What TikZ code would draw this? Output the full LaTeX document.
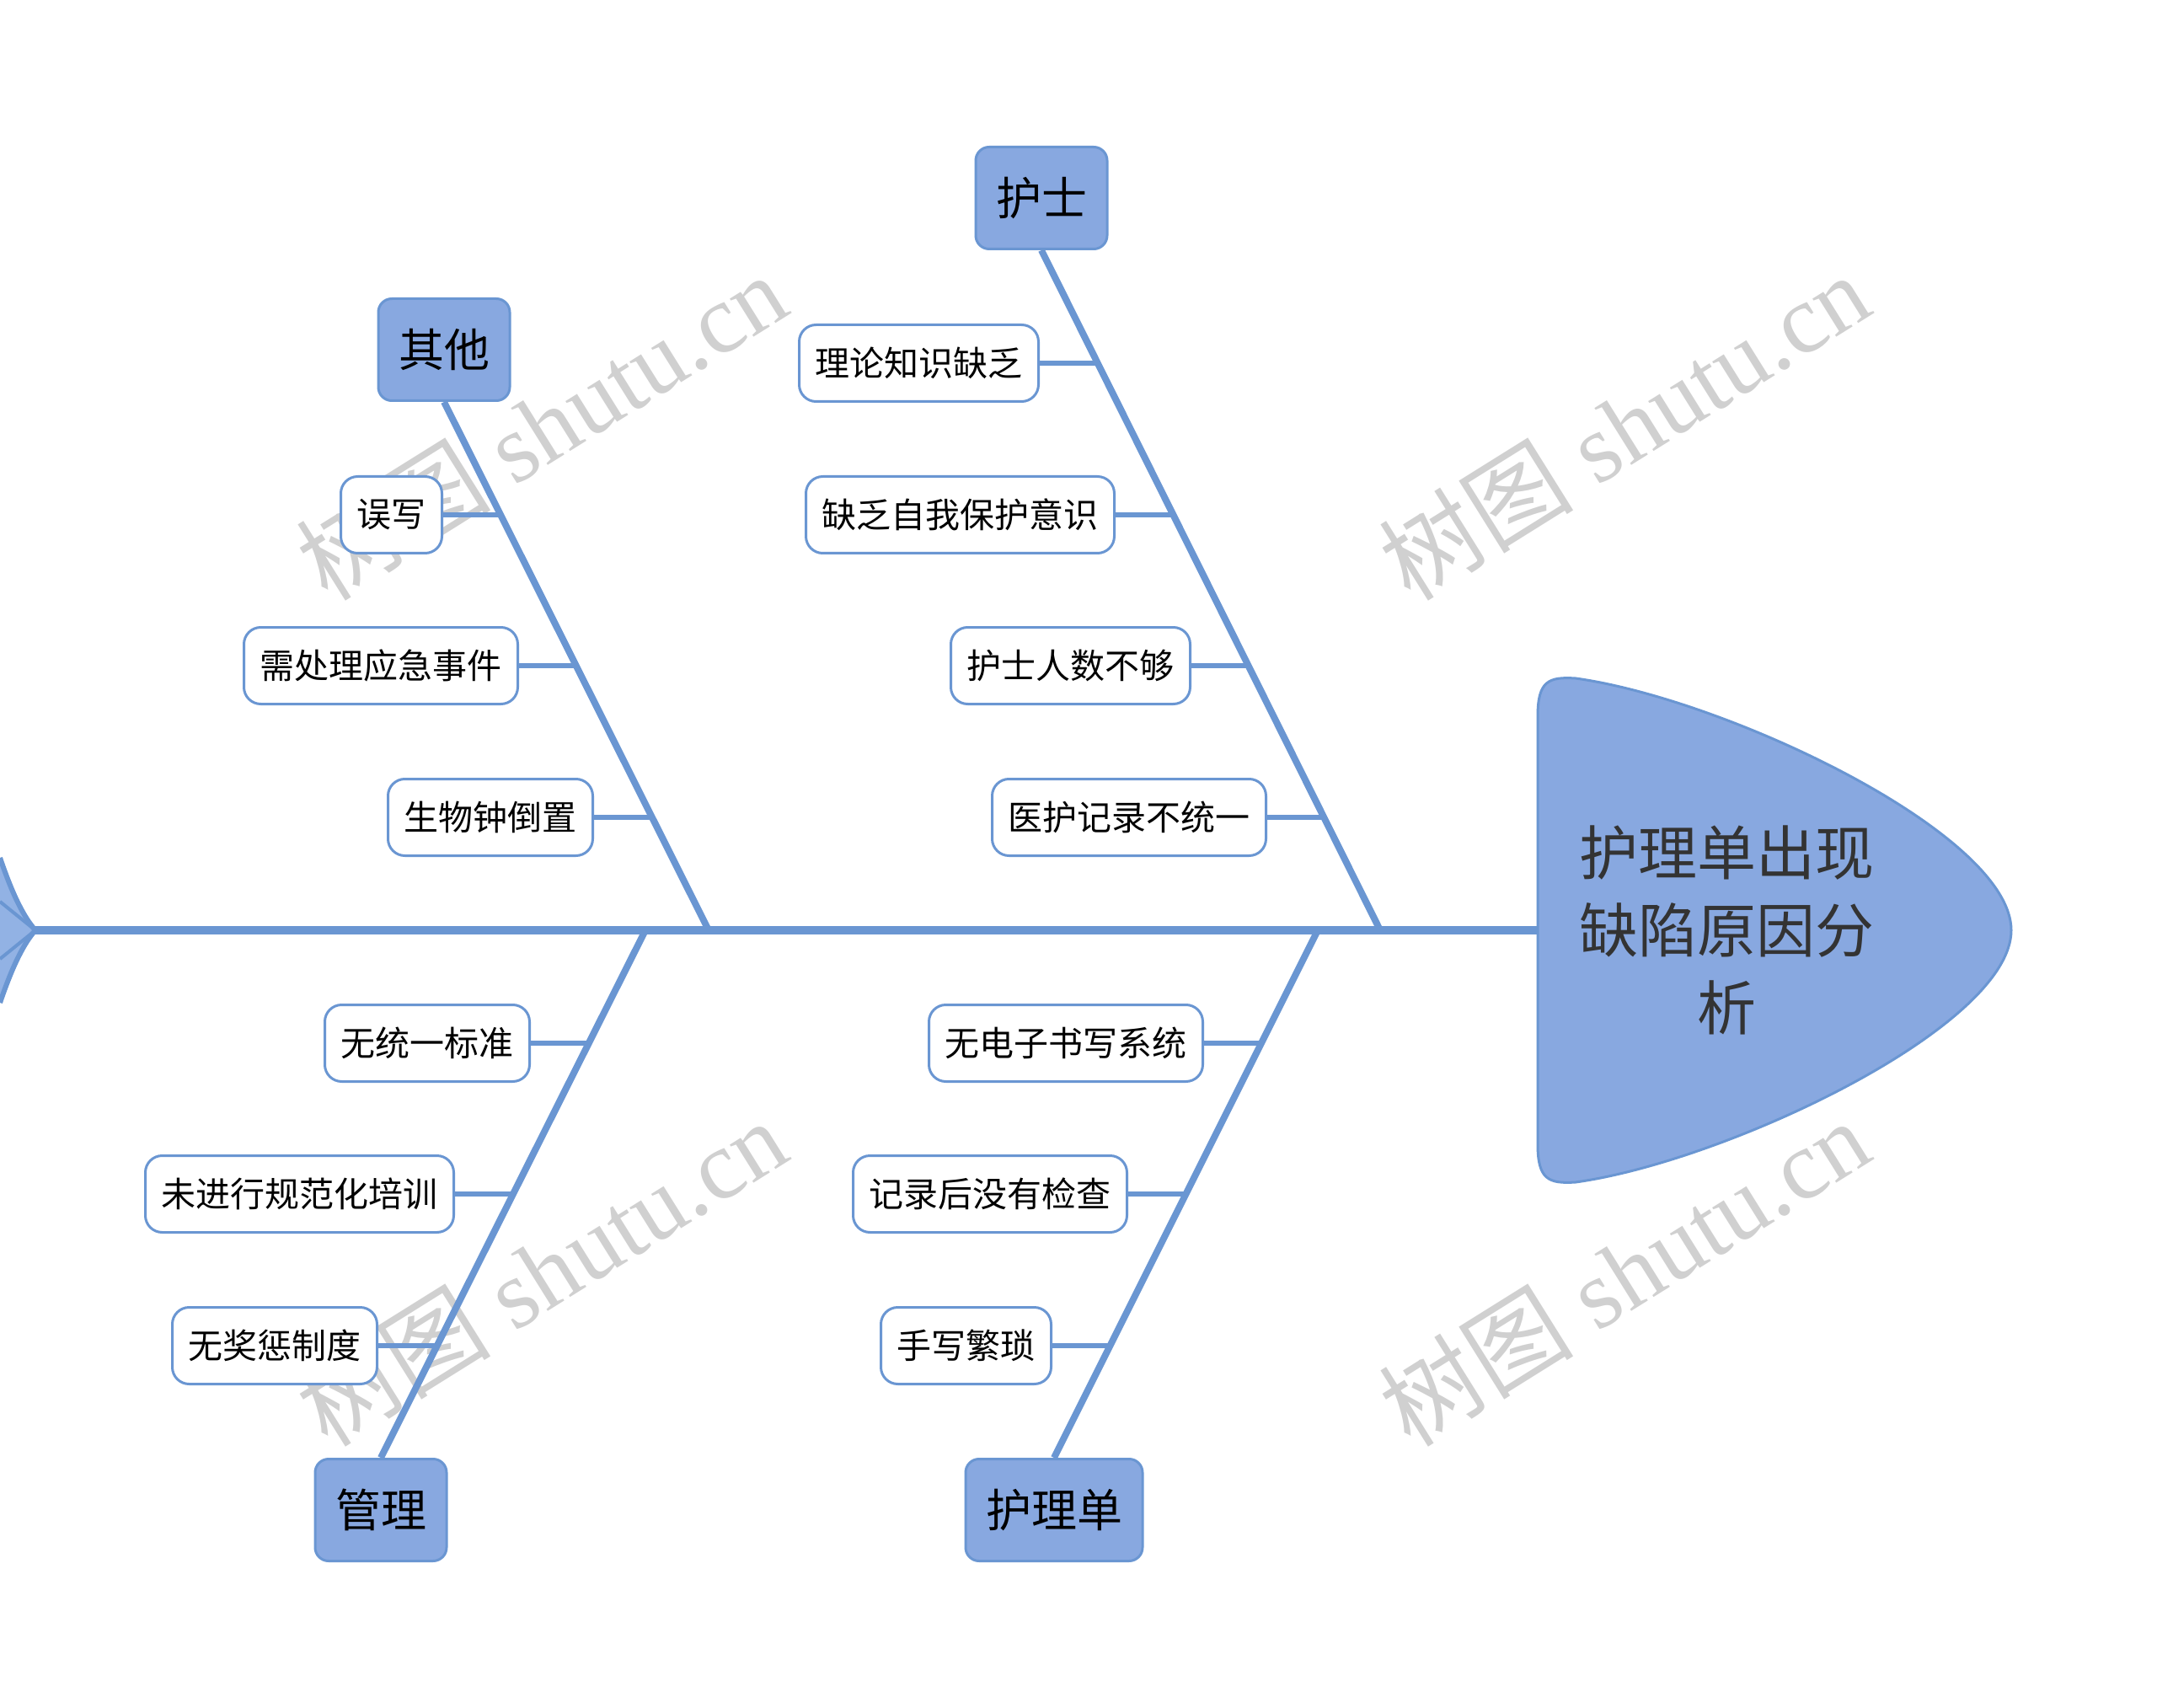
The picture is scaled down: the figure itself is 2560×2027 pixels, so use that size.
\documentclass[tikz,border=0pt]{standalone}
\usepackage{fontspec}
\setmainfont{Liberation Serif}
\newfontfamily\cjk{Noto Sans CJK SC}
\usetikzlibrary{calc}
\definecolor{bfill}{RGB}{136,168,224}
\definecolor{bline}{RGB}{106,150,210}
\definecolor{tfill}{RGB}{146,178,228}
\definecolor{wmgray}{RGB}{208,208,208}
\begin{document}
\begin{tikzpicture}[x=0.5pt,y=-0.5pt,
  cat/.style={draw=bline, fill=bfill, line width=1.5pt, rounded corners=8pt,
    minimum height=60.5pt, inner xsep=12pt, inner ysep=0pt, text=black,
    font=\cjk\fontsize{27}{27}\selectfont},
  item/.style={draw=bline, fill=white, line width=1.5pt, rounded corners=10pt,
    minimum height=45.5pt, inner xsep=9.5pt, inner ysep=0pt, anchor=east, text=black,
    font=\cjk\fontsize{20.5}{20.5}\selectfont},
  spine/.style={draw=bline, line width=5pt},
  bone/.style={draw=bline, line width=4pt},
  twig/.style={draw=bline, line width=3pt},
  wm/.style={text=wmgray, rotate=32, font=\fontsize{58}{58}\selectfont}]
\useasboundingbox (0,0) rectangle (2560,2027);

% watermarks (behind)
\node[wm] (w1) at (642,506) {{\cjk 树图} shutu.cn};
\node[wm] (w2) at (1927,506) {{\cjk 树图} shutu.cn};
\node[wm] (w3) at (642,1510) {{\cjk 树图} shutu.cn};
\node[wm] (w4) at (1927,1510) {{\cjk 树图} shutu.cn};

% tail
\fill[tfill] (0,1018) .. controls (15,1062) and (28,1088) .. (42,1104)
  .. controls (28,1120) and (15,1146) .. (0,1190) -- cycle;
\draw[bline, line width=3pt] (0,1018) .. controls (15,1062) and (28,1088) .. (42,1104)
  .. controls (28,1120) and (15,1146) .. (0,1190);
\draw[bline, line width=2pt] (0,1070) -- (42,1104) -- (0,1138);
\coordinate (tail) at (40,1104);

% head
\path[draw=bline, fill=bfill, line width=1.5pt]
  (1825,1104) -- (1825,850) .. controls (1825,808) and (1838,803) .. (1870,805)
  .. controls (2050,830) and (2387,990) .. (2387,1104)
  .. controls (2387,1218) and (2050,1378) .. (1870,1403)
  .. controls (1838,1405) and (1825,1400) .. (1825,1358) -- cycle;
\node[align=center, text={rgb,255:red,51;green,51;blue,51},
  font=\cjk\fontsize{35}{46}\selectfont] (head) at (2049,1104)
  {护理单出现\\缺陷原因分\\析};
\coordinate (hw) at (1825,1104);

% spine
\draw[spine] (tail) -- (hw);
\coordinate (b1) at (1638,1104);
\coordinate (b2) at (841,1104);
\coordinate (b3) at (766,1104);
\coordinate (b4) at (1564,1104);

% categories
\node[cat] (c1) at (1236,235) {护士};
\node[cat] (c2) at (527,415) {其他};
\node[cat] (c3) at (452,1792) {管理};
\node[cat] (c4) at (1251,1792) {护理单};

\draw[bone] (c1.south) -- (b1);
\draw[bone] (c2.south) -- (b2);
\draw[bone] (c3.north) -- (b3);
\draw[bone] (c4.north) -- (b4);

% junctions
\coordinate (j11) at (1303,431);
\coordinate (j12) at (1393,611);
\coordinate (j13) at (1482,790);
\coordinate (j14) at (1571,970);
\coordinate (j21) at (594,611);
\coordinate (j22) at (684,790);
\coordinate (j23) at (774,970);
\coordinate (j31) at (699,1238);
\coordinate (j32) at (609,1417);
\coordinate (j33) at (519,1597);
\coordinate (j41) at (1497,1238);
\coordinate (j42) at (1408,1417);
\coordinate (j43) at (1318,1597);

% items
\node[item] (s11) at (1234,431) {理论知识缺乏};
\node[item] (s12) at (1324,611) {缺乏自我保护意识};
\node[item] (s13) at (1414,790) {护士人数不够};
\node[item] (s14) at (1504,970) {医护记录不统一};
\node[item] (s21) at (526,611) {误写};
\node[item] (s22) at (616,790) {需处理应急事件};
\node[item] (s23) at (705,970) {生物钟倒置};
\node[item] (s31) at (630,1238) {无统一标准};
\node[item] (s32) at (540,1417) {未进行规范化培训};
\node[item] (s33) at (449,1597) {无奖惩制度};
\node[item] (s41) at (1429,1238) {无电子书写系统};
\node[item] (s42) at (1339,1417) {记录后没有检查};
\node[item] (s43) at (1249,1597) {手写繁琐};

\foreach \a/\b in {s11/j11,s12/j12,s13/j13,s14/j14,s21/j21,s22/j22,s23/j23,
  s31/j31,s32/j32,s33/j33,s41/j41,s42/j42,s43/j43}
  \draw[twig] (\a.east) -- (\b);
\end{tikzpicture}
\end{document}
